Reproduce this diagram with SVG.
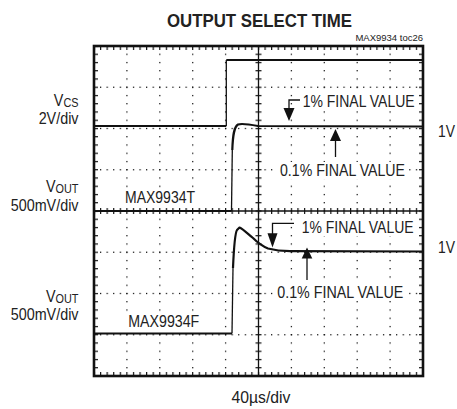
<svg xmlns="http://www.w3.org/2000/svg" width="457" height="409" viewBox="0 0 457 409">
<style>
text{font-family:"Liberation Sans",Arial,sans-serif;fill:#222}
.lbl{font-size:16.5px}
.trace{fill:none;stroke:#111;stroke-width:2.2;stroke-linejoin:round}
.edge{fill:none;stroke:#111;stroke-width:1.3}
.ann{fill:none;stroke:#111;stroke-width:1.3}
.bg{fill:#fff}
</style>
<defs>
<pattern id="tkx" patternUnits="userSpaceOnUse" x="93.4" y="0" width="6.58" height="409"><rect width="1.2" height="409" fill="#111"/></pattern>
<pattern id="tky" patternUnits="userSpaceOnUse" x="0" y="45.4" width="457" height="8.25"><rect width="457" height="1.2" fill="#111"/></pattern>
</defs>
<g id="title">
<text x="259.5" y="26.7" text-anchor="middle" font-size="18.5" font-weight="bold" textLength="185" lengthAdjust="spacingAndGlyphs">OUTPUT SELECT TIME</text>
<text x="423" y="41" text-anchor="end" font-size="9.5">MAX9934 toc26</text>
</g>
<g id="grid">
<g fill="url(#tkx)">
<rect x="94" y="86.6" width="329" height="1.3"/>
<rect x="94" y="127.85" width="329" height="1.3"/>
<rect x="94" y="169.1" width="329" height="1.3"/>
<rect x="94" y="251.6" width="329" height="1.3"/>
<rect x="94" y="292.85" width="329" height="1.3"/>
<rect x="94" y="334.1" width="329" height="1.3"/>
<rect x="94" y="46" width="329" height="4"/>
<rect x="94" y="372" width="329" height="4"/>
<rect x="94" y="208" width="329" height="6"/>
</g>
<g fill="url(#tky)">
<rect x="126.25" y="46" width="1.3" height="330"/>
<rect x="159.15" y="46" width="1.3" height="330"/>
<rect x="192.05" y="46" width="1.3" height="330"/>
<rect x="224.95" y="46" width="1.3" height="330"/>
<rect x="290.75" y="46" width="1.3" height="330"/>
<rect x="323.65" y="46" width="1.3" height="330"/>
<rect x="356.55" y="46" width="1.3" height="330"/>
<rect x="389.45" y="46" width="1.3" height="330"/>
<rect x="94" y="46" width="4" height="330"/>
<rect x="419" y="46" width="4" height="330"/>
<rect x="255.5" y="46" width="6" height="330"/>
</g>
<line x1="94" y1="211" x2="423" y2="211" stroke="#111" stroke-width="1.3"/>
<line x1="258.5" y1="46" x2="258.5" y2="376" stroke="#111" stroke-width="1.3"/>
<rect x="94" y="46" width="329" height="330" fill="none" stroke="#111" stroke-width="2.6"/>
</g>
<g id="label-bg">
<rect class="bg" x="300" y="91" width="117" height="18"/>
<rect class="bg" x="277" y="162" width="131" height="17"/>
<rect class="bg" x="123" y="188" width="75" height="17"/>
<rect class="bg" x="299" y="218" width="118" height="18"/>
<rect class="bg" x="275" y="284" width="132" height="17"/>
<rect class="bg" x="126" y="313" width="76" height="17"/>
</g>
<g id="traces">
<path class="trace" d="M95,126 H226.3"/>
<path class="edge" d="M226.3,126 V60"/>
<path class="trace" d="M226.3,60 H422"/>
<path class="trace" d="M95,211 H231.5"/>
<path class="edge" d="M231.5,211 L232.3,150"/>
<path class="trace" d="M232.3,150 C232.8,135 234,127 238,124.5 C242,123 250,124.5 258,126 L422,126.5"/>
<path class="trace" d="M95,333.5 H232"/>
<path class="edge" d="M232,333.5 L233,268"/>
<path class="trace" d="M233,268 C234,245 235,233 237,230 L239.5,227.5 C243,229 248,234 253,238 C258,243 262,246 268,248.5 C274,250 280,251 290,251.2 L422,251.5"/>
</g>
<g id="connectors">
<path class="ann" d="M300,100 H289 V109"/>
<polygon points="283.5,108 294.5,108 289,121" fill="#111"/>
<path class="ann" d="M335.5,157 V140"/>
<polygon points="330,141 341,141 335.5,129" fill="#111"/>
<path class="ann" d="M294,223.3 H272.5 V234"/>
<polygon points="267.5,233.3 277.5,233.3 272.5,247.5" fill="#111"/>
<path class="ann" d="M307,280 V258"/>
<polygon points="301.7,258.5 312.3,258.5 307,247.5" fill="#111"/>
</g>
<g id="plot-labels" class="lbl">
<text x="302.7" y="106.5" textLength="112" lengthAdjust="spacingAndGlyphs">1% FINAL VALUE</text>
<text x="280" y="176" textLength="125" lengthAdjust="spacingAndGlyphs">0.1% FINAL VALUE</text>
<text x="125" y="202.7" textLength="70" lengthAdjust="spacingAndGlyphs">MAX9934T</text>
<text x="301.7" y="233.3" textLength="112" lengthAdjust="spacingAndGlyphs">1% FINAL VALUE</text>
<text x="277.3" y="298.3" textLength="126" lengthAdjust="spacingAndGlyphs">0.1% FINAL VALUE</text>
<text x="128.3" y="327.3" textLength="71" lengthAdjust="spacingAndGlyphs">MAX9934F</text>
</g>
<g id="axis-labels" class="lbl">
<text transform="translate(78.5,106) scale(0.87,1)" text-anchor="end">V<tspan font-size="12.5" dy="1">CS</tspan></text>
<text transform="translate(78.5,124) scale(0.87,1)" text-anchor="end">2V/div</text>
<text transform="translate(78.5,192) scale(0.87,1)" text-anchor="end">V<tspan font-size="12.5" dy="1">OUT</tspan></text>
<text transform="translate(78.5,211) scale(0.87,1)" text-anchor="end">500mV/div</text>
<text transform="translate(78.5,302) scale(0.87,1)" text-anchor="end">V<tspan font-size="12.5" dy="1">OUT</tspan></text>
<text transform="translate(78.5,320) scale(0.87,1)" text-anchor="end">500mV/div</text>
<text x="438" y="137" textLength="17" lengthAdjust="spacingAndGlyphs">1V</text>
<text x="438" y="253" textLength="17" lengthAdjust="spacingAndGlyphs">1V</text>
<text x="261" y="403" text-anchor="middle" textLength="59" lengthAdjust="spacingAndGlyphs">40µs/div</text>
</g>
</svg>
